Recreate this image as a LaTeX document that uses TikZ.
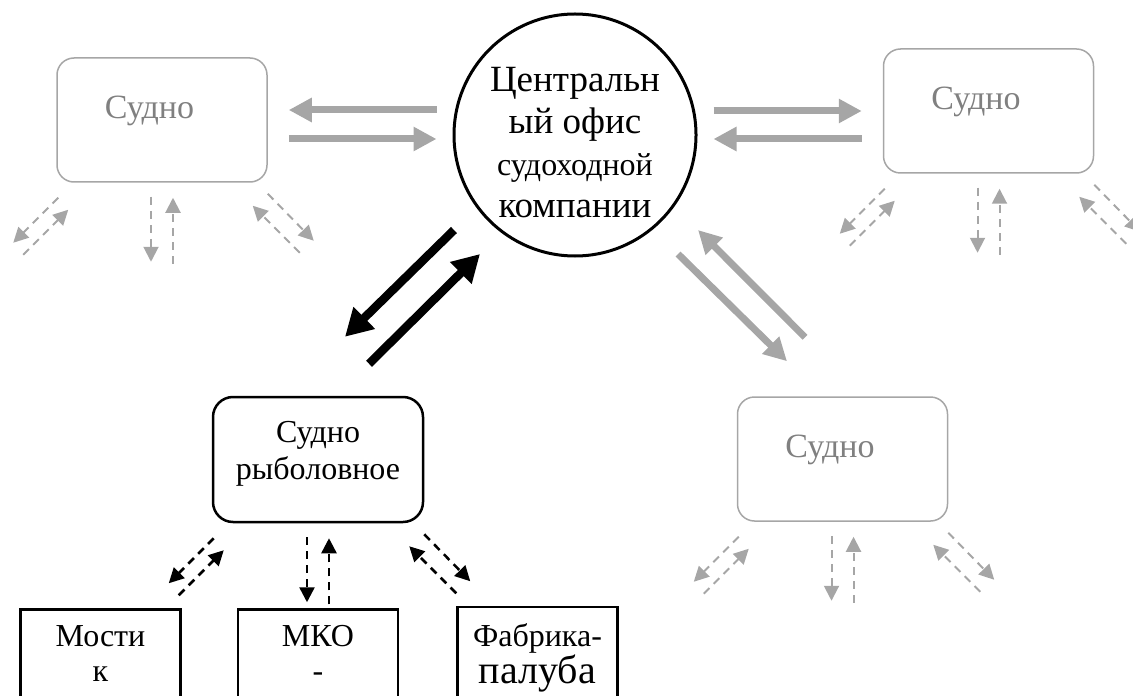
\documentclass[tikz,border=0pt]{standalone}
\usepackage{fontspec}
\setmainfont{Liberation Serif}
\usepackage{xcolor}
\definecolor{shipgray}{RGB}{166,166,166}
\definecolor{labelgray}{RGB}{128,128,128}
\usetikzlibrary{arrows.meta, positioning, calc}
\tikzset{
  shipbox/.style={draw=shipgray, line width=0.75pt, rounded corners=8.5pt,
    minimum width=105pt, minimum height=62pt},
  mainbox/.style={draw, line width=1.25pt, rounded corners=10pt,
    minimum width=105pt, minimum height=62.5pt, align=center,
    font=\fontsize{16}{18.5}\selectfont, text depth=9pt},
  roombox/.style={draw, line width=1.25pt, minimum width=80pt,
    inner ysep=8pt, align=center, anchor=north,
    font=\fontsize{16}{17.5}\selectfont, text depth=30pt},
  garr/.style={-{Triangle[length=11.5pt, width=11.5pt]}, line width=3.5pt, shipgray},
  barr/.style={-{Triangle[length=13.5pt, width=14.5pt]}, line width=4.25pt, black},
  darr/.style={-{Triangle[length=7.5pt, width=7.5pt]}, dash pattern=on 4pt off 3pt},
}

\begin{document}
\begin{tikzpicture}[x=0.5pt, y=-0.5pt,
  shiplabel/.style={text=labelgray, font=\fontsize{17}{19}\selectfont, anchor=base},
  office/.style={draw, circle, line width=1.5pt, minimum size=121pt,
    inner sep=0pt, align=center, font=\fontsize{18.5}{21}\selectfont,
    text height=83pt, text depth=0pt}
]
  \useasboundingbox (0,0) rectangle (1133,695);

  % Central office
  \node[office] (office) at (575,135)
    {Центральн\\ый офис\\{\fontsize{16}{21}\selectfont судоходной}\\компании};

  % Other ships (grey)
  \node[shipbox] (ship1) at (162,120) {};
  \node[shipbox] (ship2) at (988.5,111) {};
  \node[shipbox] (ship3) at (842.5,459) {};
  \foreach \s in {ship1, ship2, ship3}
    \node[shiplabel] at ($(\s.north)+(-12.5,61)$) {Судно};

  % Fishing vessel and its rooms
  \node[mainbox] (fish) at (318,459.5) {Судно\\рыболовное};
  \node[roombox] (mko) at (318,608) {МКО\\-};
  \node[roombox, left=27.5pt of mko] (bridge) {Мости\\к};
  \node[roombox, right=28.5pt of mko] (factory)
    {Фабрика-\\{\fontsize{20}{19.5}\selectfont палуба}};

  % Office <-> ships
  \draw[garr] ($(office.west)+(-16,-25)$) -- ($(ship1.east)+(21,-10)$);
  \draw[garr] ($(ship1.east)+(21,19)$) -- ($(office.west)+(-16,4)$);
  \draw[garr] ($(office.east)+(16,-24)$) -- ($(ship2.west)+(-21,0)$);
  \draw[garr] ($(ship2.west)+(-21,28)$) -- ($(office.east)+(16,4)$);
  \draw[garr] ($(office.south east)+(16.4,32.4)$) -- ($(ship3.north)+(-55.5,-35)$);
  \draw[garr] ($(ship3.north)+(-37.5,-59)$) -- ($(office.south east)+(36.4,8.4)$);
  \draw[barr] ($(office.south west)+(-34.4,8.4)$) -- ($(fish.north)+(27,-59)$);
  \draw[barr] ($(fish.north)+(51,-32)$) -- ($(office.south west)+(-8.4,32.4)$);

  % Dashed links under every ship
  \foreach \b/\c/\w in {ship1/shipgray/1pt, ship2/shipgray/1pt,
                        ship3/shipgray/1pt, fish/black/1.25pt} {
    \draw[darr, \c, line width=\w] ($(\b.south west)+(2,15)$) -- ($(\b.south west)+(-43,60)$);
    \draw[darr, \c, line width=\w] ($(\b.south west)+(-33,72)$) -- ($(\b.south west)+(12,27)$);
    \draw[darr, \c, line width=\w] ($(\b.south)+(-11,14)$) -- ($(\b.south)+(-11,79)$);
    \draw[darr, \c, line width=\w] ($(\b.south)+(11,81)$) -- ($(\b.south)+(11,15)$);
    \draw[darr, \c, line width=\w] ($(\b.south east)+(0,11)$) -- ($(\b.south east)+(46,58)$);
    \draw[darr, \c, line width=\w] ($(\b.south east)+(32,70)$) -- ($(\b.south east)+(-15,23)$);
  }
\end{tikzpicture}
\end{document}
